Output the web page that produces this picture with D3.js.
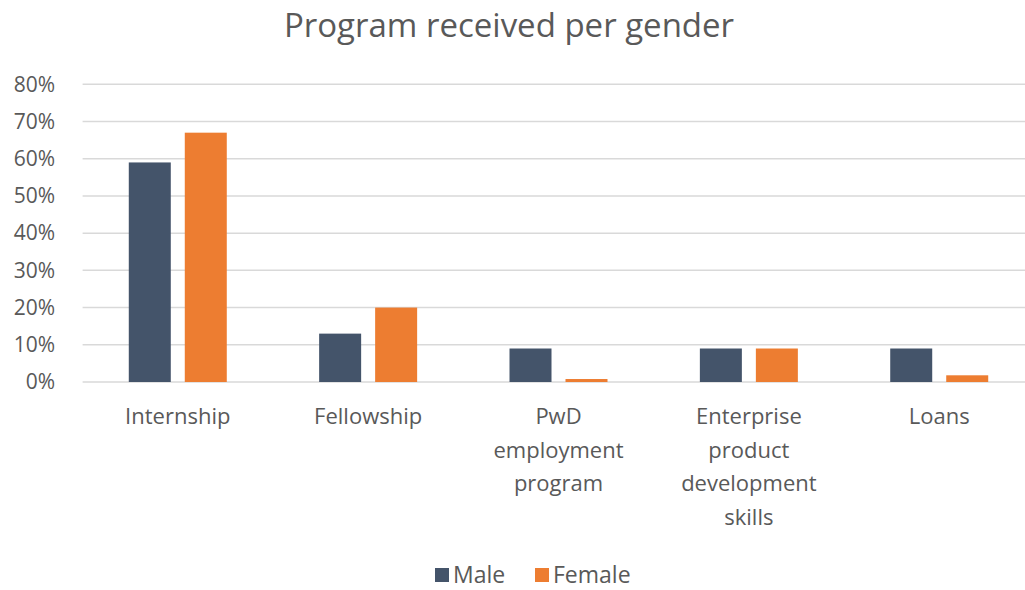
<!DOCTYPE html>
<html>
<head>
<meta charset="utf-8">
<script src="https://cdn.jsdelivr.net/npm/d3@7"></script>
<style>
  html, body { margin: 0; padding: 0; background: #ffffff; }
  svg { display: block; font-family: "Open Sans", "Noto Sans", sans-serif; }
</style>
</head>
<body>
<svg id="chart" width="1025" height="590"></svg>
<script>
// Share of respondents who received each programme, by gender
const categories = ["Internship", "Fellowship", "PwD employment program", "Enterprise product development skills", "Loans"];
const seriesNames = ["Male", "Female"];
const maleValues = [0.59, 0.13, 0.09, 0.09, 0.09];
const femaleValues = [0.67, 0.20, 0.008, 0.09, 0.018];
const yTicks = [0, 0.1, 0.2, 0.3, 0.4, 0.5, 0.6, 0.7, 0.8];
const title = "Program received per gender";

const colors = { Male: "#44546A", Female: "#ED7D31" };
const textColor = "#595959";
const gridColor = "#D9D9D9";

const svg = d3.select("#chart");
const plot = { left: 82.6, right: 1034.4, top: 84.3, bottom: 382 };

const rows = categories.map((c, i) => ({ category: c, Male: maleValues[i], Female: femaleValues[i] }));

const x0 = d3.scaleBand()
  .domain(categories)
  .range([plot.left, plot.right])
  .paddingInner(0.4852)
  .paddingOuter(0.2426);

const x1 = d3.scaleBand()
  .domain(seriesNames)
  .range([0, x0.bandwidth()])
  .paddingInner(0.25);

const y = d3.scaleLinear().domain([0, 0.8]).range([plot.bottom, plot.top]);

// Title
svg.append("text")
  .attr("x", 509)
  .attr("y", 37)
  .attr("text-anchor", "middle")
  .attr("fill", textColor)
  .style("font-size", "33px")
  .text(title);

// Horizontal gridlines
svg.append("g")
  .selectAll("line")
  .data(yTicks)
  .join("line")
  .attr("x1", plot.left)
  .attr("x2", plot.right)
  .attr("y1", d => y(d))
  .attr("y2", d => y(d))
  .attr("stroke", gridColor)
  .attr("stroke-width", 1.5);

// Y axis labels
const yAxis = d3.axisLeft(y)
  .tickValues(yTicks)
  .tickFormat(d3.format(".0%"))
  .tickSize(0)
  .tickPadding(0);

svg.append("g")
  .attr("transform", `translate(55,0)`)
  .call(yAxis)
  .call(g => g.select(".domain").remove())
  .call(g => g.selectAll("text")
    .attr("fill", textColor)
    .style("font-size", "21px")
    .style("font-family", "'Open Sans', sans-serif"));

// Bars
const groups = svg.append("g")
  .selectAll("g")
  .data(rows)
  .join("g")
  .attr("transform", d => `translate(${x0(d.category)},0)`);

groups.selectAll("rect")
  .data(d => seriesNames.map(s => ({ series: s, value: d[s] })))
  .join("rect")
  .attr("x", d => x1(d.series))
  .attr("width", x1.bandwidth())
  .attr("y", d => y(d.value))
  .attr("height", d => y(0) - y(d.value))
  .attr("fill", d => colors[d.series]);

// Category labels, wrapped to the category width
const xAxis = d3.axisBottom(x0).tickSize(0).tickPadding(0);
const xg = svg.append("g")
  .attr("transform", `translate(0,${plot.bottom})`)
  .call(xAxis)
  .call(g => g.select(".domain").remove());

xg.selectAll("text")
  .attr("fill", textColor)
  .style("font-size", "22px")
  .style("font-family", "'Open Sans', sans-serif")
  .attr("y", 42)
  .attr("dy", 0)
  .call(wrap, x0.step() * 0.8);

function wrap(texts, width) {
  texts.each(function () {
    const text = d3.select(this);
    const words = text.text().split(/\s+/);
    const yPos = text.attr("y");
    text.text(null);
    let line = [];
    let lineNo = 0;
    let tspan = text.append("tspan").attr("x", 0).attr("y", yPos).attr("dy", 0);
    for (const word of words) {
      line.push(word);
      tspan.text(line.join(" "));
      if (tspan.node().getComputedTextLength() > width && line.length > 1) {
        line.pop();
        tspan.text(line.join(" "));
        line = [word];
        lineNo += 1;
        tspan = text.append("tspan")
          .attr("x", 0)
          .attr("y", yPos)
          .attr("dy", lineNo * 33.5)
          .text(word);
      }
    }
  });
}

// Legend
const legendItems = [
  { name: "Male", x: 435 },
  { name: "Female", x: 535 }
];
const legend = svg.append("g")
  .selectAll("g")
  .data(legendItems)
  .join("g")
  .attr("transform", d => `translate(${d.x},567)`);

legend.append("rect")
  .attr("width", 14)
  .attr("height", 14)
  .attr("y", 1)
  .attr("fill", d => colors[d.name]);

legend.append("text")
  .attr("x", 18)
  .attr("y", 16)
  .attr("fill", textColor)
  .style("font-size", "23px")
  .text(d => d.name);
</script>
</body>
</html>
